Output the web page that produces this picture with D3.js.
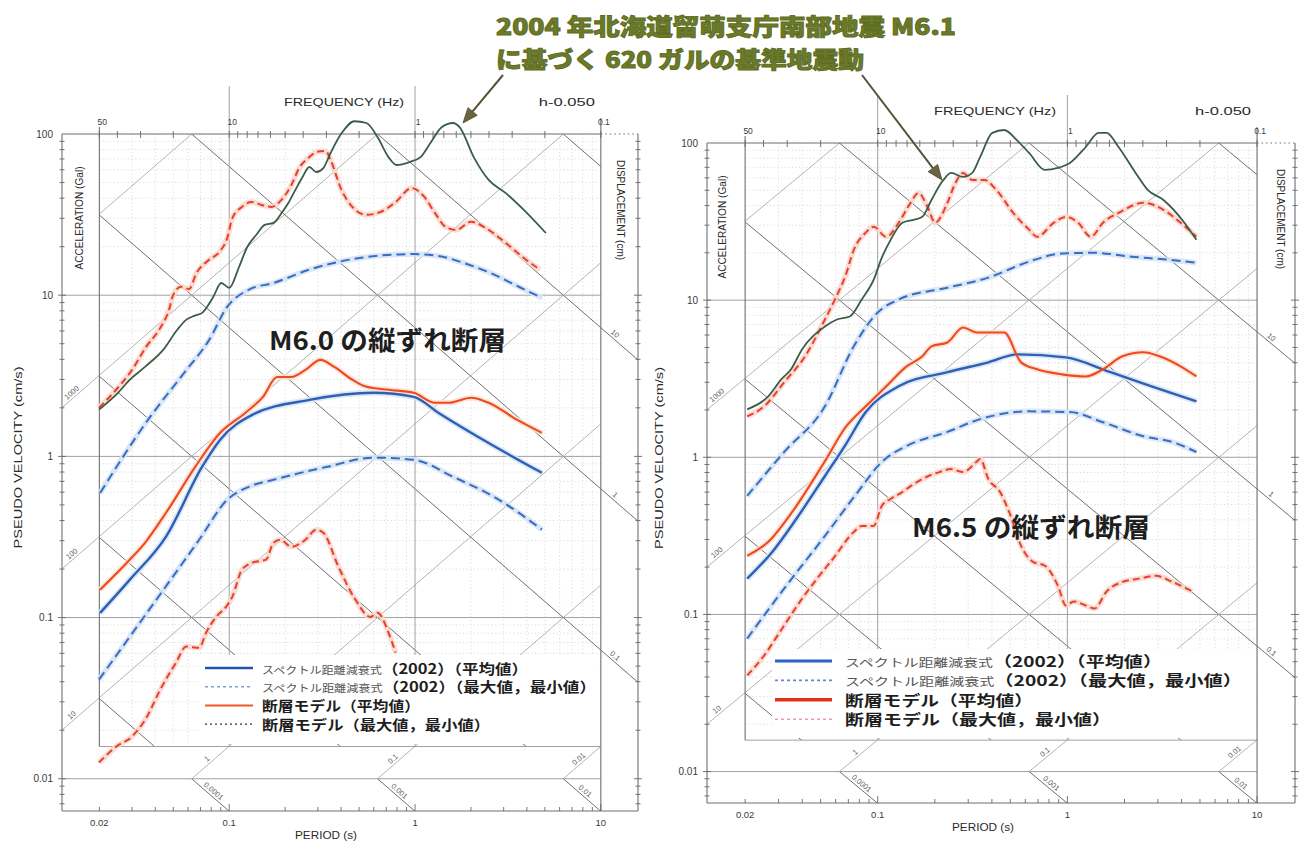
<!DOCTYPE html>
<html>
<head>
<meta charset="utf-8">
<script src="https://cdn.jsdelivr.net/npm/d3@7"></script>
<style>
  body { margin: 0; background: #fff; }
  svg { display: block; }
</style>
</head>
<body>
<svg id="chart" width="1303" height="845"></svg>
<script>
// ---- spectra: [period (s), pseudo velocity (cm/s)] ----
// 2004 Rumoi (M6.1) 620 gal design motion
const rumoiLeft = [[0.0199,1.95],[0.0252,2.48],[0.0292,2.99],[0.0352,3.59],[0.0441,4.58],[0.0525,6.10],[0.0586,7.03],[0.0648,7.44],[0.0715,7.77],[0.082,9.75],[0.0906,11.9],[0.1,11.1],[0.113,15.0],[0.125,19.9],[0.14,23.7],[0.155,27.3],[0.173,28.1],[0.193,32.8],[0.208,37.3],[0.227,45.0],[0.248,54.1],[0.27,62.4],[0.294,58.1],[0.321,61.5],[0.351,76.2],[0.402,101],[0.472,120],[0.548,117],[0.628,95.8],[0.72,71.9],[0.796,64.2],[0.935,67.0],[1.07,71.9],[1.21,87.9],[1.39,110],[1.6,117],[1.74,110],[2.07,71.9],[2.49,51.9],[3.08,43.0],[3.85,33.8],[5.06,24.3]];
const faultMaxLeft = [[0.0199,2.0],[0.0246,2.59],[0.03,3.44],[0.0357,4.78],[0.0419,6.10],[0.0474,8.11],[0.0499,10.0],[0.0551,11.3],[0.0608,10.9],[0.0664,13.6],[0.078,16.6],[0.0883,18.5],[0.0975,22.6],[0.104,30.1],[0.117,35.3],[0.132,37.8],[0.149,36.3],[0.169,35.3],[0.191,39.0],[0.216,48.3],[0.238,61.5],[0.27,71.9],[0.294,77.3],[0.33,78.5],[0.351,69.0],[0.402,45.0],[0.46,35.3],[0.548,31.5],[0.652,32.8],[0.786,37.8],[0.959,46.2],[1.11,41.3],[1.28,32.4],[1.46,26.5],[1.66,25.4],[2.0,28.5],[2.49,25.4],[3.08,21.1],[3.85,17.0],[4.7,14.4]];
const attenMaxLeft = [[0.0202,0.594],[0.0366,1.69],[0.0572,3.30],[0.078,5.28],[0.0975,8.46],[0.127,10.8],[0.173,11.9],[0.27,14.4],[0.502,17.0],[0.983,18.0],[1.34,17.5],[1.9,15.6],[2.49,13.9],[3.66,11.2],[4.82,9.62]];
const faultMeanLeft = [[0.0202,0.149],[0.0292,0.229],[0.0352,0.291],[0.0457,0.447],[0.0656,0.861],[0.0894,1.40],[0.122,1.86],[0.152,2.34],[0.181,3.11],[0.216,3.11],[0.257,3.44],[0.31,3.97],[0.368,3.59],[0.46,2.99],[0.548,2.70],[0.721,2.59],[0.983,2.48],[1.28,2.15],[1.52,2.15],[2.0,2.31],[2.49,2.15],[3.53,1.69],[4.82,1.40]];
const attenMeanLeft = [[0.0202,0.107],[0.0292,0.172],[0.0457,0.318],[0.0715,0.863],[0.0894,1.27],[0.133,1.81],[0.27,2.24],[0.598,2.48],[0.983,2.34],[1.34,1.86],[2.49,1.21],[4.82,0.791]];
const attenMinLeft = [[0.0199,0.0412],[0.0371,0.112],[0.0689,0.304],[0.0975,0.538],[0.128,0.649],[0.173,0.716],[0.338,0.863],[0.598,0.982],[0.983,0.953],[1.6,0.748],[2.83,0.538],[4.82,0.351]];
const faultMinLeft = [[0.0199,0.0126],[0.0246,0.0158],[0.03,0.0183],[0.0361,0.0243],[0.0425,0.0357],[0.0517,0.0525],[0.0586,0.0661],[0.0689,0.065],[0.0751,0.0805],[0.0851,0.101],[0.0964,0.117],[0.104,0.135],[0.117,0.198],[0.133,0.219],[0.158,0.229],[0.173,0.291],[0.188,0.304],[0.216,0.275],[0.257,0.304],[0.294,0.351],[0.321,0.336],[0.387,0.207],[0.478,0.129],[0.575,0.101],[0.628,0.107],[0.72,0.0805],[0.786,0.0605]];

const rumoiRight = [[0.0205,2.02],[0.0265,2.44],[0.031,3.13],[0.0349,3.63],[0.0399,4.86],[0.0527,6.79],[0.0609,7.53],[0.0713,7.87],[0.0824,10.1],[0.0953,13.5],[0.105,18.6],[0.117,24.2],[0.135,31.1],[0.156,32.5],[0.172,33.9],[0.192,43.4],[0.222,58.2],[0.244,64.5],[0.282,60.8],[0.315,64.5],[0.347,81.5],[0.402,116],[0.464,121],[0.543,104],[0.628,86.4],[0.762,67.4],[0.892,69.4],[1.03,74.6],[1.25,94.3],[1.46,116],[1.61,116],[1.86,94.3],[2.29,64.5],[2.65,50.3],[3.21,43.4],[4.14,31.1],[4.79,24.2]];
const faultMaxRight = [[0.0205,1.82],[0.0252,2.11],[0.0321,3.0],[0.0414,4.39],[0.0527,7.53],[0.0595,10.1],[0.0679,14.5],[0.0748,20.9],[0.0865,26.9],[0.0953,29.3],[0.111,25.3],[0.129,31.1],[0.149,41.6],[0.164,48.1],[0.183,39.3],[0.201,31.1],[0.233,41.6],[0.257,55.7],[0.282,64.5],[0.315,58.2],[0.365,58.2],[0.422,50.3],[0.518,35.9],[0.628,28.1],[0.692,25.3],[0.849,31.1],[0.982,33.9],[1.14,31.1],[1.33,25.3],[1.54,31.1],[1.86,35.9],[2.52,41.6],[3.21,37.6],[3.95,31.1],[4.79,25.3]];
const attenMaxRight = [[0.0205,0.568],[0.0321,1.08],[0.0527,2.11],[0.0748,5.08],[0.1,8.34],[0.129,10.1],[0.233,12.0],[0.383,13.9],[0.628,17.6],[0.936,19.8],[1.39,20.0],[2.18,18.9],[3.37,18.1],[4.79,17.3]];
const faultMeanRight = [[0.0205,0.236],[0.0265,0.29],[0.0354,0.449],[0.0527,0.946],[0.0679,1.56],[0.0865,2.11],[0.111,2.83],[0.142,3.79],[0.172,4.39],[0.192,5.08],[0.233,5.38],[0.282,6.70],[0.331,6.23],[0.383,6.23],[0.464,6.23],[0.57,4.02],[0.692,3.63],[0.936,3.37],[1.25,3.27],[1.54,3.63],[1.95,4.39],[2.52,4.66],[3.06,4.39],[3.95,3.79],[4.79,3.27]];
const attenMeanRight = [[0.0205,0.169],[0.0278,0.25],[0.0372,0.405],[0.0527,0.76],[0.0679,1.21],[0.0865,1.94],[0.129,2.83],[0.233,3.48],[0.383,4.02],[0.543,4.52],[0.982,4.32],[1.69,3.48],[2.78,2.83],[4.79,2.27]];
const attenMinRight = [[0.0205,0.0702],[0.0321,0.146],[0.0527,0.316],[0.0785,0.601],[0.105,0.933],[0.142,1.18],[0.233,1.45],[0.347,1.75],[0.628,1.96],[1.03,1.94],[1.54,1.67],[2.52,1.36],[3.58,1.25],[4.79,1.08]];
const faultMinRight = [[0.0205,0.0409],[0.0252,0.0548],[0.0306,0.0778],[0.039,0.121],[0.0479,0.169],[0.0581,0.226],[0.0748,0.335],[0.0824,0.366],[0.0953,0.366],[0.105,0.49],[0.117,0.543],[0.135,0.601],[0.149,0.656],[0.172,0.728],[0.211,0.805],[0.244,0.841],[0.282,0.805],[0.331,0.933],[0.347,0.975],[0.383,0.728],[0.442,0.601],[0.493,0.449],[0.57,0.273],[0.659,0.216],[0.762,0.204],[0.892,0.152],[0.982,0.114],[1.08,0.121],[1.25,0.114],[1.39,0.109],[1.61,0.14],[1.95,0.161],[2.4,0.169],[2.92,0.176],[3.58,0.161],[4.56,0.14]];

// ---- axis tick labels ----
const velocityTicks = [100, 10, 1, 0.1, 0.01];
const velocityTickText = ["100", "10", "1", "0.1", "0.01"];
const periodTicks = [0.02, 0.1, 1, 10];
const periodTickText = ["0.02", "0.1", "1", "10"];
const frequencyTicks = [50, 10, 1, 0.1];
const frequencyTickText = ["50", "10", "1", "0.1"];
const accelLabelValues = [1000, 100, 10];          // gal, left margin
const dispLabelValues = [10, 1, 0.1];              // cm, right margin
const stripAccelValues = [1, 0.1, 0.01];           // bottom strip, rising lines
const stripDispValues = [0.0001, 0.001, 0.01];     // bottom strip, falling lines

// ---- text ----
const titleLines = ["2004 年北海道留萌支庁南部地震 M6.1", "に基づく 620 ガルの基準地震動"];
const panelNotes = ["M6.0 の縦ずれ断層", "M6.5 の縦ずれ断層"];
const legendSmall = ["スペクトル距離減衰式", "スペクトル距離減衰式", "", ""];
const legendMain = ["（2002）（平均値）", "（2002）（最大値，最小値）", "断層モデル（平均値）", "断層モデル（最大値，最小値）"];

const svg = d3.select("#chart");
const TWO_PI = 2 * Math.PI;
const LAT = "'Liberation Sans', Arial, sans-serif";
const CJK = "'Noto Sans CJK JP', 'Noto Sans', sans-serif";

const panels = [
  { id: "p1", x0: 62, x1: 638, y0: 134, y1: 811,
    series: [rumoiLeft, faultMaxLeft, attenMaxLeft, faultMeanLeft, attenMeanLeft, attenMinLeft, faultMinLeft],
    note: panelNotes[0], noteX: 269, noteY: 350, noteW: 237, noteSize: 26,
    pvX: 22, accX: 83, dispX: 617, freqW: 120, hW: 56, periodX: 326,
    legend: { bx0: 198, bx1: 598, by0: 655, by1: 744, lx0: 205, lx1: 253, tx: 262, y: 668, dy: 18.7, small: 10.4, big: 14.2,
      widths: [266, 334, 158, 228],
      colors: [
        { c: "#2452b2", w: 2.6, dash: null },
        { c: "#7ea2d6", w: 1.6, dash: "3,3" },
        { c: "#f0562a", w: 2.0, dash: null },
        { c: "#333", w: 1.2, dash: "2,3" } ] } },
  { id: "p2", x0: 707, x1: 1295, y0: 143, y1: 803,
    series: [rumoiRight, faultMaxRight, attenMaxRight, faultMeanRight, attenMeanRight, attenMinRight, faultMinRight],
    note: panelNotes[1], noteX: 912, noteY: 537, noteW: 238, noteSize: 26,
    pvX: 663, accX: 726, dispX: 1277, freqW: 122, hW: 56, periodX: 983,
    legend: { bx0: 772, bx1: 1255, by0: 649, by1: 738, lx0: 775, lx1: 832, tx: 845, y: 661, dy: 19.4, small: 11.4, big: 14.6,
      widths: [317, 397, 188, 266],
      colors: [
        { c: "#2a62c4", w: 3.0, dash: null },
        { c: "#6d86c2", w: 1.6, dash: "3,3" },
        { c: "#e5301c", w: 3.6, dash: null },
        { c: "#f29aa2", w: 1.6, dash: "3,3" } ] } }
];

const seriesStyle = [
  { c: "#3b5d48", w: 1.8, dash: null, halo: null },          // observed
  { c: "#e8402a", w: 2.0, dash: "7,4", halo: "#f8d6cc" },    // fault model max
  { c: "#3a6cc2", w: 2.0, dash: "9,5", halo: "#d3e3f5" },    // attenuation max
  { c: "#ee4a20", w: 2.1, dash: null, halo: "#fbe0d2" },     // fault model mean
  { c: "#2e5fb5", w: 2.4, dash: null, halo: "#d5e4f6" },     // attenuation mean
  { c: "#3a6cc2", w: 2.0, dash: "9,5", halo: "#d3e3f5" },    // attenuation min
  { c: "#e8402a", w: 2.0, dash: "7,4", halo: "#f8d6cc" }     // fault model min
];

panels.forEach(p => drawPanel(p));

function drawPanel(p) {
  const x = d3.scaleLog().domain([Math.pow(10, -1.9), Math.pow(10, 1.2)]).range([p.x0, p.x1]);
  const y = d3.scaleLog().domain([100, Math.pow(10, -2.2)]).range([p.y0, p.y1]);
  const xi0 = x(0.02), xi1 = x(10);
  const yTop = y(100), yIb = y(Math.pow(10, -1.8)), y001 = y(0.01), yB = y(Math.pow(10, -2.2));
  const g = svg.append("g");
  const defs = svg.append("defs");
  const clip = (name, x0, y0, x1, y1) => {
    defs.append("clipPath").attr("id", p.id + name)
      .append("rect").attr("x", x0).attr("y", y0).attr("width", x1 - x0).attr("height", y1 - y0);
    return `url(#${p.id + name})`;
  };
  const cInner = clip("in", xi0, yTop, xi1, yIb);
  const cLeft = clip("lf", p.x0, yTop, xi0, yIb);
  const cRight = clip("rt", xi1, yTop, p.x1, yIb);
  const cStripA = clip("sa", xi0, yIb, xi1, y001);
  const cStripD = clip("sd", xi0, y001, xi1, yB);

  // faint minor grid
  const minor = g.append("g").attr("clip-path", cInner)
    .attr("stroke", "#cdcdcd").attr("stroke-width", 0.7).attr("stroke-dasharray", "1.2,2.4");
  for (let n = -2; n <= 1; n++) for (let k = 2; k <= 9; k++) {
    const v = k * Math.pow(10, n);
    minor.append("line").attr("x1", xi0).attr("x2", xi1).attr("y1", y(v)).attr("y2", y(v));
  }
  for (let n = -2; n <= 0; n++) for (let k = 2; k <= 9; k++) {
    const t = k * Math.pow(10, n);
    if (t <= 0.02 || t >= 10) continue;
    minor.append("line").attr("x1", x(t)).attr("x2", x(t)).attr("y1", yTop).attr("y2", yIb);
  }

  // diagonal acceleration (rising, light) and displacement (falling, dark) lines
  const tEnds = [Math.pow(10, -2.2), Math.pow(10, 1.5)];
  const accLine = a => d3.line()(tEnds.map(t => [x(t), y(a * t / TWO_PI)]));
  const dispLine = dd => d3.line()(tEnds.map(t => [x(t), y(TWO_PI * dd / t)]));
  const accAll = d3.range(-2, 5).map(n => Math.pow(10, n));
  const dispAll = d3.range(-5, 3).map(n => Math.pow(10, n));
  const diag = (clipUrl, vals, fn, col, w) => {
    const gg = g.append("g").attr("clip-path", clipUrl).attr("stroke", col).attr("stroke-width", w).attr("fill", "none");
    vals.forEach(v => gg.append("path").attr("d", fn(v)));
  };
  const accCol = "#ababab", dispCol = "#707070";
  diag(cInner, accAll, accLine, accCol, 0.9);
  diag(cInner, dispAll, dispLine, dispCol, 1);
  diag(cLeft, accelLabelValues, accLine, accCol, 0.9);
  diag(cRight, dispLabelValues, dispLine, dispCol, 1);
  diag(cStripA, accAll, accLine, accCol, 0.9);
  diag(cStripD, dispAll, dispLine, dispCol, 1);

  // major horizontal / vertical lines
  const major = g.append("g").attr("stroke", "#a0a0a0").attr("stroke-width", 1);
  [10, 1, 0.1].forEach(v => major.append("line").attr("x1", p.x0).attr("x2", xi1).attr("y1", y(v)).attr("y2", y(v)));
  major.append("line").attr("x1", p.x0).attr("x2", xi1).attr("y1", y001).attr("y2", y001);
  major.append("line").attr("x1", xi0).attr("x2", xi1).attr("y1", yIb).attr("y2", yIb);
  [0.1, 1].forEach(t => major.append("line").attr("x1", x(t)).attr("x2", x(t)).attr("y1", yTop - 48).attr("y2", yIb));

  const frame = g.append("g").attr("stroke", "#6f6f6f").attr("stroke-width", 1.1);
  frame.append("line").attr("x1", p.x0).attr("x2", xi1).attr("y1", yTop).attr("y2", yTop);
  frame.append("line").attr("x1", xi1).attr("x2", p.x1).attr("y1", yTop).attr("y2", yTop).attr("stroke-dasharray", "1.5,3");
  frame.append("line").attr("x1", xi0).attr("x2", xi0).attr("y1", yTop - 7).attr("y2", yIb);
  frame.append("line").attr("x1", xi1).attr("x2", xi1).attr("y1", yTop - 16).attr("y2", yB);
  frame.append("line").attr("x1", p.x0).attr("x2", p.x0).attr("y1", yTop).attr("y2", yB);
  frame.append("line").attr("x1", p.x1).attr("x2", p.x1).attr("y1", yTop).attr("y2", yB);
  frame.append("line").attr("x1", p.x0).attr("x2", p.x1).attr("y1", yB).attr("y2", yB);

  // ticks: velocity on both outer axes, period along bottom, frequency along top
  const ticks = g.append("g").attr("stroke", "#666").attr("stroke-width", 0.9);
  for (let n = -3; n <= 1; n++) for (let k = 1; k <= 9; k++) {
    const v = k * Math.pow(10, n);
    if (v < Math.pow(10, -2.2) || v > 100) continue;
    const len = k === 1 ? 4 : 2.5;
    ticks.append("line").attr("x1", p.x0 - len).attr("x2", p.x0 + len).attr("y1", y(v)).attr("y2", y(v));
    ticks.append("line").attr("x1", p.x1 - len).attr("x2", p.x1 + len).attr("y1", y(v)).attr("y2", y(v));
  }
  for (let n = -2; n <= 1; n++) for (let k = 1; k <= 9; k++) {
    const t = k * Math.pow(10, n);
    if (t < Math.pow(10, -1.9) || t > Math.pow(10, 1.2)) continue;
    ticks.append("line").attr("x1", x(t)).attr("x2", x(t)).attr("y1", yB).attr("y2", yB - (k === 1 ? 7 : 4));
  }
  for (let n = -1; n <= 1; n++) for (let k = 1; k <= 9; k++) {
    const f = k * Math.pow(10, n);
    if (f < 0.1 || f > 50) continue;
    ticks.append("line").attr("x1", x(1 / f)).attr("x2", x(1 / f)).attr("y1", yTop - 3).attr("y2", yTop + 4);
  }

  // tick labels
  const small = g.append("g").attr("font-family", LAT).attr("fill", "#3a3a3a");
  velocityTicks.forEach((v, i) => small.append("text").attr("x", p.x0 - 9).attr("y", y(v) + 3.5)
    .attr("text-anchor", "end").attr("font-size", 10).text(velocityTickText[i]));
  periodTicks.forEach((t, i) => small.append("text").attr("x", x(t)).attr("y", yB + 15)
    .attr("text-anchor", "middle").attr("font-size", 9.5).text(periodTickText[i]));
  frequencyTicks.forEach((f, i) => small.append("text").attr("x", x(1 / f) + 3).attr("y", yTop - 9)
    .attr("text-anchor", "middle").attr("font-size", 8.5).text(frequencyTickText[i]));

  // diagonal line labels
  const angA = Math.atan2(y(10) - y(1), x(10) - x(1)) * 180 / Math.PI;
  const angD = -angA;
  const diagLabel = (px, py, ang, txt) => small.append("text")
    .attr("transform", `translate(${px},${py}) rotate(${ang})`)
    .attr("text-anchor", "middle").attr("dy", -2.5).attr("font-size", 7.5).attr("fill", "#555").text(txt);
  accelLabelValues.forEach(a => {
    const t = x.invert(p.x0 + 13);
    diagLabel(p.x0 + 13, y(a * t / TWO_PI), angA, String(a));
  });
  dispLabelValues.forEach(dd => {
    const t = x.invert(xi1 + 11);
    diagLabel(xi1 + 11, y(TWO_PI * dd / t), angD, String(dd));
  });
  stripAccelValues.forEach(a => {
    const v = Math.pow(10, -1.9), t = TWO_PI * v / a;
    diagLabel(x(t), y(v), angA, String(a));
  });
  stripDispValues.forEach(dd => {
    const v = Math.pow(10, -2.1), t = TWO_PI * dd / v;
    diagLabel(x(t), y(v), angD, String(dd));
  });

  // axis titles
  const titles = g.append("g").attr("font-family", LAT).attr("fill", "#2a2a2a");
  titles.append("text").attr("x", (xi0 + xi1) / 2 - 6).attr("y", yTop - 28).attr("text-anchor", "middle")
    .attr("font-size", 11).attr("textLength", p.freqW).attr("lengthAdjust", "spacingAndGlyphs").text("FREQUENCY (Hz)");
  titles.append("text").attr("x", xi1 - 62).attr("y", yTop - 28)
    .attr("font-size", 11.5).attr("textLength", p.hW).attr("lengthAdjust", "spacingAndGlyphs").text("h-0.050");
  titles.append("text").attr("x", p.periodX).attr("y", yB + 28).attr("text-anchor", "middle")
    .attr("font-size", 11).attr("textLength", 62).attr("lengthAdjust", "spacingAndGlyphs").text("PERIOD (s)");
  titles.append("text").attr("transform", `translate(${p.pvX},${(yTop + yB) / 2 - 15}) rotate(-90)`)
    .attr("text-anchor", "middle").attr("font-size", 11).attr("textLength", 182).attr("lengthAdjust", "spacingAndGlyphs")
    .text("PSEUDO VELOCITY (cm/s)");
  titles.append("text").attr("transform", `translate(${p.accX},${yTop + 84}) rotate(-90)`)
    .attr("text-anchor", "middle").attr("font-size", 10).attr("textLength", 103).attr("lengthAdjust", "spacingAndGlyphs")
    .text("ACCELERATION (Gal)");
  titles.append("text").attr("transform", `translate(${p.dispX},${yTop + 76}) rotate(90)`)
    .attr("text-anchor", "middle").attr("font-size", 10).attr("textLength", 100).attr("lengthAdjust", "spacingAndGlyphs")
    .text("DISPLACEMENT (cm)");

  // spectra
  const line = d3.line().x(d => x(d[0])).y(d => y(d[1])).curve(d3.curveMonotoneX);
  const curves = g.append("g").attr("fill", "none").attr("stroke-linejoin", "round");
  const order = [2, 5, 4, 3, 6, 1, 0];
  order.forEach(i => {
    const s = seriesStyle[i];
    if (s.halo) curves.append("path").attr("d", line(p.series[i])).attr("stroke", s.halo)
      .attr("stroke-width", s.w + 3.5).attr("opacity", 0.85);
  });
  order.forEach(i => {
    const s = seriesStyle[i];
    const path = curves.append("path").attr("d", line(p.series[i])).attr("stroke", s.c).attr("stroke-width", s.w);
    if (s.dash) path.attr("stroke-dasharray", s.dash);
  });

  // panel caption
  g.append("text").attr("x", p.noteX).attr("y", p.noteY).attr("font-family", CJK).attr("font-weight", 700)
    .attr("font-size", p.noteSize).attr("fill", "#1e1e1e").attr("textLength", p.noteW)
    .attr("lengthAdjust", "spacingAndGlyphs").text(p.note);

  // legend
  const L = p.legend;
  const lg = g.append("g");
  lg.append("rect").attr("x", L.bx0).attr("y", L.by0).attr("width", L.bx1 - L.bx0).attr("height", L.by1 - L.by0).attr("fill", "#fff");
  L.colors.forEach((st, i) => {
    const yy = L.y + i * L.dy;
    const ln = lg.append("line").attr("x1", L.lx0).attr("x2", L.lx1).attr("y1", yy).attr("y2", yy)
      .attr("stroke", st.c).attr("stroke-width", st.w);
    if (st.dash) ln.attr("stroke-dasharray", st.dash);
    const t = lg.append("text").attr("x", L.tx).attr("y", yy + L.big * 0.4).attr("font-family", CJK)
      .attr("textLength", L.widths[i]).attr("lengthAdjust", "spacingAndGlyphs");
    if (legendSmall[i]) t.append("tspan").attr("font-size", L.small).attr("fill", "#555").attr("font-weight", 400).text(legendSmall[i]);
    t.append("tspan").attr("font-size", L.big).attr("fill", "#1e1e1e").attr("font-weight", 700).text(legendMain[i]);
  });
}

// title lines and arrows
const titleG = svg.append("g").attr("font-family", CJK).attr("font-weight", 900).attr("font-size", 22.6)
  .attr("fill", "#6b7a2b").attr("stroke", "#5e6c22").attr("stroke-width", 0.9);
titleG.append("text").attr("x", 496).attr("y", 35)
  .attr("textLength", 460).attr("lengthAdjust", "spacingAndGlyphs").text(titleLines[0]);
titleG.append("text").attr("x", 496).attr("y", 68)
  .attr("textLength", 368).attr("lengthAdjust", "spacingAndGlyphs").text(titleLines[1]);

function arrow(x1, y1, x2, y2) {
  const dx = x2 - x1, dy = y2 - y1, len = Math.hypot(dx, dy);
  const ux = dx / len, uy = dy / len, hl = 15, hw = 6;
  const bx = x2 - ux * hl, by = y2 - uy * hl;
  svg.append("line").attr("x1", x1).attr("y1", y1).attr("x2", bx).attr("y2", by)
    .attr("stroke", "#575236").attr("stroke-width", 2);
  svg.append("path").attr("fill", "#6b6440").attr("stroke", "#4e4a30").attr("stroke-width", 0.8)
    .attr("d", `M${x2},${y2} L${bx - uy * hw},${by + ux * hw} L${bx + uy * hw},${by - ux * hw} Z`);
}
arrow(503, 75, 463, 123);
arrow(862, 75, 942, 180);
</script>
</body>
</html>
